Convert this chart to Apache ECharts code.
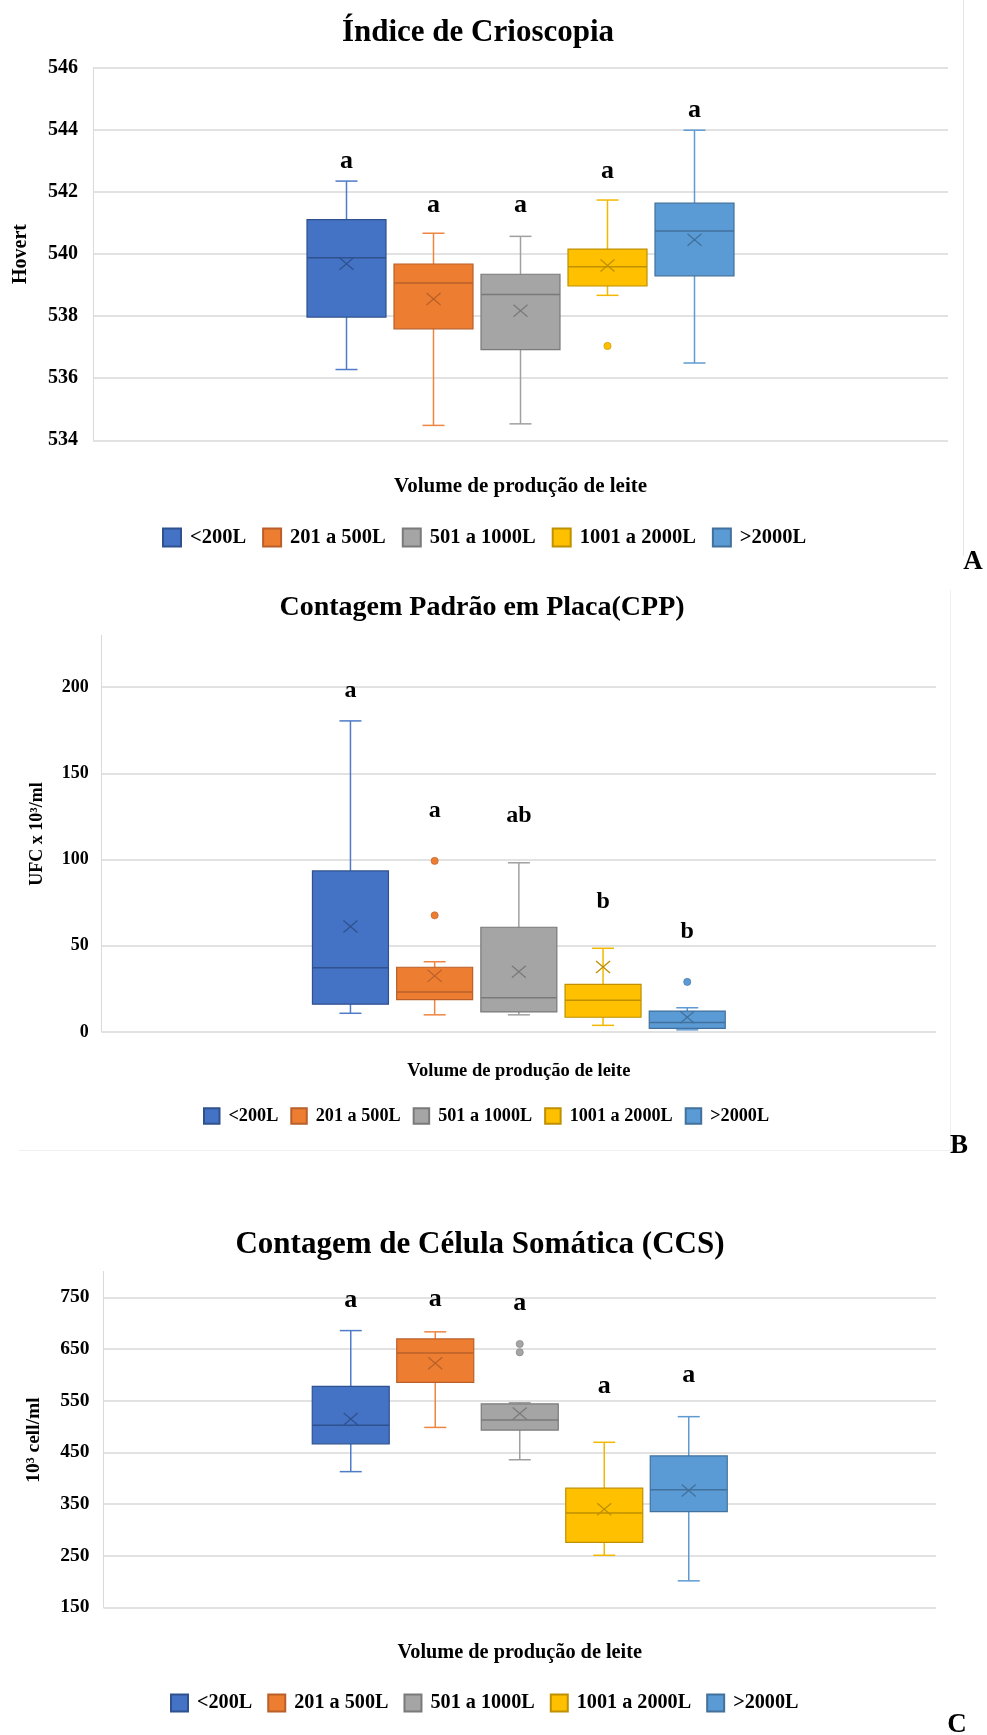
<!DOCTYPE html>
<html>
<head>
<meta charset="utf-8">
<script src="https://cdn.jsdelivr.net/npm/echarts@6/dist/echarts.min.js"></script>
<style>
html,body{margin:0;padding:0;background:#fff;}
#chart{width:987px;height:1735px;}
</style>
</head>
<body>
<div id="chart"></div>
<script>
// ---------- DATA ----------
const groups = ['<200L', '201 a 500L', '501 a 1000L', '1001 a 2000L', '>2000L'];

// A: Índice de Crioscopia (Hovert)
const criosMin  = [536.28, 534.48, 534.53, 538.67, 536.49];
const criosQ1   = [537.97, 537.59, 536.92, 538.97, 539.30];
const criosMed  = [539.88, 539.07, 538.70, 539.59, 540.74];
const criosQ3   = [541.11, 539.68, 539.35, 540.16, 541.64];
const criosMax  = [542.35, 540.67, 540.57, 541.74, 543.99];
const criosMean = [539.69, 538.55, 538.17, 539.63, 540.46];
const criosOutliers = [[], [], [], [537.04], []];
const criosLetters  = ['a', 'a', 'a', 'a', 'a'];
const criosLetterY  = [543.0, 541.57, 541.57, 542.67, 544.63];
const criosTicks = [534, 536, 538, 540, 542, 544, 546];

// B: Contagem Padrão em Placa (CPP)
const cppMin  = [10.8, 9.9, 9.9, 3.8, 1.2];
const cppQ1   = [16.1, 18.7, 11.6, 8.5, 2.0];
const cppMed  = [37.2, 23.2, 19.8, 18.3, 5.4];
const cppQ3   = [93.4, 37.5, 60.7, 27.6, 12.1];
const cppMax  = [180.4, 40.7, 98.1, 48.5, 14.0];
const cppMean = [61.1, 32.5, 34.9, 37.6, 8.5];
const cppOutliers = [[], [99.2, 67.6], [], [], [29.0]];
const cppLetters  = ['a', 'a', 'ab', 'b', 'b'];
const cppLetterY  = [198, 128.5, 125.3, 75.5, 58.0];
const cppTicks = [0, 50, 100, 150, 200];

// C: Contagem de Célula Somática (CCS)
const ccsMin  = [412.6, 498.2, 435.6, 250.7, 201.2];
const ccsQ1   = [466.4, 585.4, 493.0, 275.5, 335.3];
const ccsMed  = [502.3, 642.2, 512.6, 332.4, 377.6];
const ccsQ3   = [577.6, 669.5, 543.6, 380.5, 443.1];
const ccsMax  = [685.6, 683.2, 546.0, 469.4, 519.0];
const ccsMean = [514.6, 622.6, 525.0, 339.7, 376.1];
const ccsOutliers = [[], [], [659.7, 643.6], [], []];
const ccsLetters  = ['a', 'a', 'a', 'a', 'a'];
const ccsLetterY  = [743.5, 746.5, 738.0, 578, 600];
const ccsTicks = [150, 250, 350, 450, 550, 650, 750];

// ---------- STYLE ----------
const FONT = "'Times New Roman','Liberation Serif',serif";
const fills = ['#4472C4', '#ED7D31', '#A5A5A5', '#FFC000', '#5B9BD5'];
const whisk = ['#4F7BC8', '#EE8540', '#A0A0A0', '#F2B800', '#5F9BD2'];
const darks = ['#2F528F', '#B9602A', '#7A7A7A', '#BF9000', '#41719C'];

const panels = [
  { min: criosMin, q1: criosQ1, med: criosMed, q3: criosQ3, max: criosMax, mean: criosMean,
    outliers: criosOutliers, letters: criosLetters, letterY: criosLetterY, ticks: criosTicks,
    yMin: 534, yMax: 546, step: 87, boxW: 79, cap: 22, letterSize: 26,
    grid: { left: 93, top: 67.8, width: 855, height: 372.5 },
    labelSize: 20, labelMargin: 15, xNameSize: 21, xNameGap: 36,
    legend: { left: 162, top: 527, size: 20.5, icon: 18, gap: 16 } },
  { min: cppMin, q1: cppQ1, med: cppMed, q3: cppQ3, max: cppMax, mean: cppMean,
    outliers: cppOutliers, letters: cppLetters, letterY: cppLetterY, ticks: cppTicks,
    yMin: 0, yMax: 230, step: 84.2, boxW: 76, cap: 22, letterSize: 24,
    grid: { left: 101.7, top: 635.4, width: 834.3, height: 396.5 },
    labelSize: 18, labelMargin: 13, xNameSize: 18.5, xNameGap: 30,
    legend: { left: 203, top: 1107, size: 18.2, icon: 15.5, gap: 12 } },
  { min: ccsMin, q1: ccsQ1, med: ccsMed, q3: ccsQ3, max: ccsMax, mean: ccsMean,
    outliers: ccsOutliers, letters: ccsLetters, letterY: ccsLetterY, ticks: ccsTicks,
    yMin: 150, yMax: 800, step: 84.5, boxW: 77, cap: 22, letterSize: 26,
    grid: { left: 103.5, top: 1271.5, width: 832.5, height: 335.8 },
    labelSize: 19.5, labelMargin: 14, xNameSize: 20.3, xNameGap: 35,
    legend: { left: 170, top: 1693, size: 20.2, icon: 17, gap: 15 } }
];

function makeRender(k, i) {
  const p = panels[k];
  return function (params, api) {
    const c0 = api.value(0);
    const Y = v => api.coord([c0, v])[1];
    const cx = api.coord([c0, api.value(3)])[0] + (i - 2) * p.step;
    const yMin = Y(api.value(1)), yQ1 = Y(api.value(2)), yMed = Y(api.value(3)),
          yQ3 = Y(api.value(4)), yMax = Y(api.value(5)), yMean = Y(api.value(6));
    const hw = p.boxW / 2, hc = p.cap / 2;
    const wl = { stroke: whisk[i], lineWidth: 1.5, fill: null };
    const dl = { stroke: darks[i], lineWidth: 1.5, fill: null };
    const xs = 7, ys = 6;
    const ch = [
      { type: 'line', shape: { x1: cx, y1: yMax, x2: cx, y2: yQ3 }, style: wl },
      { type: 'line', shape: { x1: cx - hc, y1: yMax, x2: cx + hc, y2: yMax }, style: wl },
      { type: 'line', shape: { x1: cx, y1: yQ1, x2: cx, y2: yMin }, style: wl },
      { type: 'line', shape: { x1: cx - hc, y1: yMin, x2: cx + hc, y2: yMin }, style: wl },
      { type: 'rect', shape: { x: cx - hw, y: yQ3, width: p.boxW, height: yQ1 - yQ3 },
        style: { fill: fills[i], stroke: darks[i], lineWidth: 1.2 } },
      { type: 'line', shape: { x1: cx - hw, y1: yMed, x2: cx + hw, y2: yMed }, style: dl },
      { type: 'line', shape: { x1: cx - xs, y1: yMean - ys, x2: cx + xs, y2: yMean + ys }, style: { stroke: darks[i], lineWidth: 1.3 } },
      { type: 'line', shape: { x1: cx - xs, y1: yMean + ys, x2: cx + xs, y2: yMean - ys }, style: { stroke: darks[i], lineWidth: 1.3 } }
    ];
    p.outliers[i].forEach(v => {
      ch.push({ type: 'circle', shape: { cx: cx, cy: Y(v), r: 3.6 },
        style: { fill: fills[i], stroke: darks[i], lineWidth: 0.6 } });
    });
    ch.push({ type: 'text', x: cx, y: Y(p.letterY[i]),
      style: { text: p.letters[i], fill: '#000',
        font: 'bold ' + p.letterSize + 'px ' + FONT,
        align: 'center', verticalAlign: 'middle',
        textAlign: 'center', textVerticalAlign: 'middle' } });
    return { type: 'group', children: ch };
  };
}

const grids = [], xAxes = [], yAxes = [], series = [], legends = [];
panels.forEach((p, k) => {
  grids.push(Object.assign({ containLabel: false }, p.grid));
  xAxes.push({
    type: 'category', gridIndex: k, data: [''],
    axisLine: { show: false }, axisTick: { show: false }, axisLabel: { show: false },
    splitLine: { show: false },
    name: 'Volume de produção de leite', nameLocation: 'middle', nameGap: p.xNameGap,
    nameTextStyle: { fontFamily: FONT, fontWeight: 'bold', fontSize: p.xNameSize, color: '#000' }
  });
  yAxes.push({
    type: 'value', gridIndex: k, min: p.yMin, max: p.yMax,
    interval: p.ticks[1] - p.ticks[0],
    axisLine: { show: true, lineStyle: { color: '#d9d9d9', width: 1 } },
    axisTick: { show: false },
    axisLabel: {
      fontFamily: FONT, fontWeight: 'bold', fontSize: p.labelSize, color: '#000',
      margin: p.labelMargin, showMaxLabel: p.ticks.indexOf(p.yMax) >= 0,
      formatter: v => (p.ticks.indexOf(v) >= 0 ? String(v) : '')
    },
    splitLine: { show: true, showMaxLine: p.ticks.indexOf(p.yMax) >= 0,
      lineStyle: { color: '#d9d9d9', width: 1.5 } }
  });
  groups.forEach((g, i) => {
    series.push({
      type: 'custom', name: g, xAxisIndex: k, yAxisIndex: k, clip: false,
      itemStyle: { color: fills[i], borderColor: darks[i], borderWidth: 1 },
      encode: { x: 0, y: [1, 2, 3, 4, 5, 6] },
      data: [[0, p.min[i], p.q1[i], p.med[i], p.q3[i], p.max[i], p.mean[i]]],
      renderItem: makeRender(k, i)
    });
  });
  legends.push({
    data: groups, left: p.legend.left, top: p.legend.top, orient: 'horizontal', padding: 0,
    icon: 'rect', itemWidth: p.legend.icon, itemHeight: p.legend.icon, itemGap: p.legend.gap,
    selectedMode: false,
    textStyle: { fontFamily: FONT, fontWeight: 'bold', fontSize: p.legend.size, color: '#000',
      padding: [0, 0, 0, 4] }
  });
});

function txt(text, x, y, size, rot) {
  return { type: 'text', x: x, y: y, rotation: rot || 0, silent: true,
    style: { text: text, fill: '#000', font: 'bold ' + size + 'px ' + FONT,
      align: 'center', verticalAlign: 'middle', textAlign: 'center', textVerticalAlign: 'middle' } };
}
function ln(x1, y1, x2, y2, color) {
  return { type: 'line', silent: true, shape: { x1, y1, x2, y2 }, style: { stroke: color, lineWidth: 1 } };
}

const graphics = [
  ln(963.5, 0, 963.5, 556, '#e4e4e4'),
  ln(950.5, 590, 950.5, 1151, '#f0f0f0'),
  ln(19, 1150.5, 950, 1150.5, '#f0f0f0'),
  txt('Índice de Crioscopia', 478, 32.5, 31),
  txt('Contagem Padrão em Placa(CPP)', 482, 608, 28),
  txt('Contagem de Célula Somática (CCS)', 480, 1245, 31),
  txt('Hovert', 21, 254, 20, Math.PI / 2),
  txt('UFC x 10³/ml', 37, 834, 18, Math.PI / 2),
  txt('10³ cell/ml', 33.5, 1440, 19.5, Math.PI / 2),
  txt('A', 973, 562, 27),
  txt('B', 959, 1146, 27),
  txt('C', 957, 1725, 27)
];

const chart = echarts.init(document.getElementById('chart'), null, { renderer: 'canvas' });
chart.setOption({
  backgroundColor: '#ffffff',
  animation: false,
  grid: grids,
  xAxis: xAxes,
  yAxis: yAxes,
  legend: legends,
  series: series,
  graphic: graphics
});
</script>
</body>
</html>
